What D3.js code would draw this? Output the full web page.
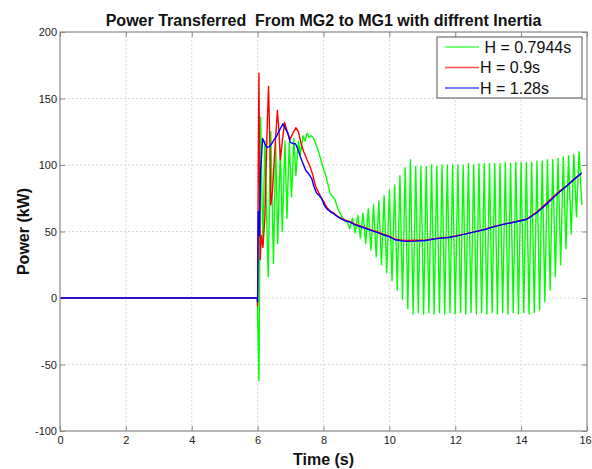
<!DOCTYPE html>
<html lang="en">
<head>
<meta charset="UTF-8">
<title>Power Transferred From MG2 to MG1</title>
<script src="https://d3js.org/d3.v7.min.js"></script>
<style>
  body { margin: 0; background: #fff; font-family: "Liberation Sans", Arial, sans-serif; }
  .tick text { font-size: 11px; fill: #222; }
</style>
</head>
<body>
<div id="chart"></div>
<script>
// axis ticks
const xTicks = [0, 2, 4, 6, 8, 10, 12, 14, 16];
const yTicks = [-100, -50, 0, 50, 100, 150, 200];

const seriesNames = [" H = 0.7944s", "H = 0.9s", "H = 1.28s"];
const seriesColors = ["#00ff00", "#ff0000", "#0000ff"];

// H = 0.7944s  [time (s), power (kW)]
const greenData = [
  [0, 0], [5.99, 0], [6.04, -62], [6.09, 136], [6.16, 40], [6.22, 118], [6.32, 16],
  [6.40, 125], [6.48, 26], [6.55, 116], [6.61, 41], [6.69, 112], [6.75, 50],
  [6.83, 118], [6.89, 60], [6.96, 117], [7.03, 76], [7.10, 120], [7.16, 92],
  [7.24, 118], [7.30, 108], [7.38, 122], [7.44, 118], [7.50, 124], [7.56, 121],
  [7.63, 122], [7.70, 120], [7.78, 115], [7.85, 110], [7.92, 104], [8.00, 97],
  [8.06, 93], [8.13, 86], [8.20, 79], [8.28, 76], [8.35, 74], [8.42, 68],
  [8.50, 64], [8.58, 60], [8.65, 59],
  [8.72, 57], [8.80, 52], [8.88, 60], [8.96, 49], [9.04, 62], [9.12, 45],
  [9.20, 64], [9.28, 41], [9.36, 67], [9.44, 36], [9.52, 70], [9.60, 31],
  [9.68, 73], [9.76, 25], [9.84, 77], [9.92, 19], [10.00, 81], [10.08, 13],
  [10.16, 85], [10.24, 6], [10.32, 92], [10.40, -1], [10.48, 98], [10.56, -8],
  [10.64, 104], [10.72, -12], [10.80, 99], [10.88, -11], [10.96, 99], [11.04, -12],
  [11.12, 99], [11.20, -11], [11.28, 100], [11.36, -12], [11.44, 99], [11.52, -11],
  [11.60, 100], [11.68, -12], [11.76, 100], [11.84, -11], [11.92, 100], [12.00, -12],
  [12.08, 100], [12.16, -11], [12.24, 100], [12.32, -12], [12.40, 101], [12.48, -11],
  [12.56, 100], [12.64, -12], [12.72, 101], [12.80, -11], [12.88, 101], [12.96, -12],
  [13.04, 101], [13.12, -11], [13.20, 101], [13.28, -12], [13.36, 101], [13.44, -11],
  [13.52, 102], [13.60, -12], [13.68, 101], [13.76, -11], [13.84, 102], [13.92, -12],
  [14.00, 102], [14.08, -11], [14.16, 102], [14.24, -12], [14.32, 102], [14.40, -11],
  [14.48, 103], [14.56, -9], [14.64, 103], [14.72, -3], [14.80, 104], [14.88, 6],
  [14.96, 104], [15.04, 16], [15.12, 105], [15.20, 25], [15.28, 106], [15.36, 37],
  [15.44, 107], [15.52, 48], [15.60, 108], [15.68, 61], [15.76, 110], [15.84, 70]
];

// H = 0.9s
const redData = [
  [0, 0], [5.99, 0], [6.00, -6], [6.02, 100], [6.04, 169], [6.06, 90], [6.08, 29],
  [6.11, 47], [6.16, 38], [6.22, 60], [6.28, 120], [6.33, 159], [6.37, 120],
  [6.40, 70], [6.45, 80], [6.52, 110], [6.60, 141], [6.65, 125], [6.69, 104],
  [6.75, 118], [6.82, 132], [6.90, 125], [6.98, 119], [7.07, 124], [7.16, 128],
  [7.24, 125], [7.32, 116], [7.40, 110], [7.50, 104], [7.59, 99], [7.68, 92],
  [7.76, 84], [7.84, 80], [7.94, 75], [8.02, 72], [8.10, 68], [8.20, 65.5],
  [8.30, 64], [8.40, 62], [8.50, 60.5], [8.65, 58.5], [8.80, 57.5], [8.96, 55.5],
  [9.20, 53.5], [9.41, 51.5], [9.60, 50], [9.82, 48], [10.00, 46.5], [10.17, 44.3],
  [10.35, 43.6], [10.50, 43.3], [10.80, 43.4], [11.10, 43.6], [11.40, 44.8],
  [11.80, 45.8], [12.00, 46.6], [12.30, 48.2], [12.56, 49.7], [12.90, 51.7],
  [13.18, 53.9], [13.50, 55.7], [13.79, 57.2], [14.15, 59.2], [14.35, 62.4],
  [14.50, 65.2], [14.75, 70.8], [15.00, 76.6], [15.20, 81], [15.41, 85],
  [15.60, 89.2], [15.84, 94]
];

// H = 1.28s
const blueData = [
  [0, 0], [5.99, 0], [6.00, -3], [6.01, 30], [6.02, 65], [6.05, 47], [6.09, 95],
  [6.15, 120], [6.22, 116], [6.28, 113], [6.36, 114], [6.43, 116], [6.50, 119],
  [6.58, 122], [6.68, 127], [6.77, 131], [6.85, 127], [6.92, 124], [6.99, 117],
  [7.08, 116], [7.15, 116], [7.22, 112], [7.30, 106], [7.38, 101], [7.46, 96],
  [7.56, 93], [7.64, 90], [7.72, 83], [7.79, 79], [7.87, 77], [7.94, 75],
  [8.02, 70], [8.10, 67], [8.20, 65], [8.30, 63.5], [8.40, 61.5], [8.50, 60],
  [8.65, 58], [8.80, 57], [8.96, 55], [9.20, 53], [9.41, 51], [9.60, 49.5],
  [9.82, 47.4], [10.00, 46], [10.17, 43.8], [10.35, 43], [10.50, 42.6],
  [10.80, 42.8], [11.10, 43.2], [11.40, 44.5], [11.80, 45.5], [12.00, 46.3],
  [12.30, 48], [12.56, 49.5], [12.90, 51.5], [13.18, 53.7], [13.50, 55.5],
  [13.79, 57], [14.15, 59], [14.35, 62], [14.50, 64.6], [14.75, 70], [15.00, 76],
  [15.20, 80.5], [15.41, 84.7], [15.60, 89], [15.84, 94]
];

const W = 592, H = 469;
const m = { left: 60, right: 587, top: 32, bottom: 431 };

const svg = d3.select("#chart").append("svg")
  .attr("width", W).attr("height", H);

const x = d3.scaleLinear().domain([0, 16]).range([m.left, m.right]);
const y = d3.scaleLinear().domain([-100, 200]).range([m.bottom, m.top]);

// grid
svg.append("g").selectAll("line")
  .data(xTicks.slice(1, -1)).enter().append("line")
  .attr("x1", d => x(d)).attr("x2", d => x(d))
  .attr("y1", m.top).attr("y2", m.bottom)
  .attr("stroke", "#cfcfcf").attr("stroke-width", 0.8).attr("stroke-dasharray", "2,2");
svg.append("g").selectAll("line")
  .data(yTicks.slice(1, -1)).enter().append("line")
  .attr("x1", m.left).attr("x2", m.right)
  .attr("y1", d => y(d)).attr("y2", d => y(d))
  .attr("stroke", "#cfcfcf").attr("stroke-width", 0.8).attr("stroke-dasharray", "2,2");

// axes with inward ticks, plain hyphen minus like the original
const fmt = d => String(d);
const axes = [
  { gen: d3.axisBottom(x).tickValues(xTicks).tickFormat(fmt).tickSizeInner(-5).tickSizeOuter(0).tickPadding(5), tr: `translate(0,${m.bottom})`, labels: true },
  { gen: d3.axisTop(x).tickValues(xTicks).tickSizeInner(-5).tickSizeOuter(0), tr: `translate(0,${m.top})`, labels: false },
  { gen: d3.axisLeft(y).tickValues(yTicks).tickFormat(fmt).tickSizeInner(-5).tickSizeOuter(0).tickPadding(3), tr: `translate(${m.left},0)`, labels: true },
  { gen: d3.axisRight(y).tickValues(yTicks).tickSizeInner(-5).tickSizeOuter(0), tr: `translate(${m.right},0)`, labels: false }
];
axes.forEach(a => {
  const g = svg.append("g").attr("transform", a.tr).call(a.gen);
  g.select(".domain").remove();
  g.selectAll(".tick line").attr("stroke", "#888");
  if (!a.labels) g.selectAll(".tick text").remove();
});
// keep the last x label inside the window
svg.selectAll(".tick text").filter(d => d === 16).attr("dx", "-2");

// lines
const line = d3.line().x(d => x(d[0])).y(d => y(d[1]));
[greenData, redData, blueData].forEach((data, i) => {
  svg.append("path")
    .datum(data)
    .attr("fill", "none")
    .attr("stroke", seriesColors[i])
    .attr("stroke-width", 1.4)
    .attr("stroke-linejoin", "round")
    .attr("d", line);
});

// box
svg.append("rect")
  .attr("x", m.left).attr("y", m.top)
  .attr("width", m.right - m.left).attr("height", m.bottom - m.top)
  .attr("fill", "none").attr("stroke", "#888").attr("stroke-width", 1.2);

// legend
const legend = svg.append("g");
legend.append("rect")
  .attr("x", 437).attr("y", 37).attr("width", 145).attr("height", 61)
  .attr("fill", "#fff").attr("stroke", "#555").attr("stroke-width", 1);
seriesNames.forEach((name, i) => {
  const ry = 47 + i * 20.5;
  legend.append("line")
    .attr("x1", 445).attr("x2", 479).attr("y1", ry).attr("y2", ry)
    .attr("stroke", seriesColors[i]).attr("stroke-width", 1.4).attr("opacity", 0.7);
  legend.append("text")
    .attr("x", 480).attr("y", ry + 5.8)
    .attr("font-size", "16px").attr("fill", "#111")
    .style("white-space", "pre")
    .text(name);
});

// title and labels
svg.append("text")
  .attr("x", (m.left + m.right) / 2).attr("y", 26)
  .attr("text-anchor", "middle")
  .attr("font-size", "16px").attr("font-weight", "bold").attr("fill", "#111")
  .style("white-space", "pre")
  .text("Power Transferred  From MG2 to MG1 with diffrent Inertia");

svg.append("text")
  .attr("x", (m.left + m.right) / 2).attr("y", 465)
  .attr("text-anchor", "middle")
  .attr("font-size", "16px").attr("font-weight", "bold").attr("fill", "#111")
  .text("Time (s)");

svg.append("text")
  .attr("transform", `translate(29,${(m.top + m.bottom) / 2}) rotate(-90)`)
  .attr("text-anchor", "middle")
  .attr("font-size", "16px").attr("font-weight", "bold").attr("fill", "#111")
  .text("Power (kW)");
</script>
</body>
</html>
